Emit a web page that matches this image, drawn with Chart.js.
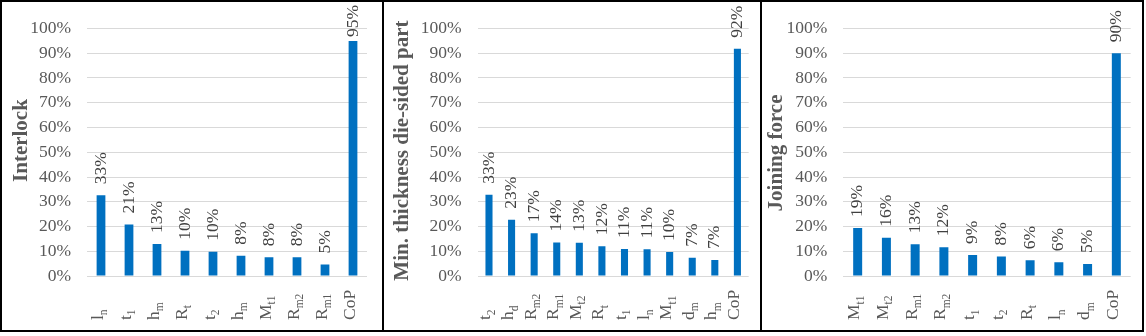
<!DOCTYPE html>
<html>
<head>
<meta charset="utf-8">
<script src="https://cdn.jsdelivr.net/npm/chart.js@4.4.1/dist/chart.umd.min.js"></script>
<style>
  html, body { margin: 0; padding: 0; background: #fff; }
  #frame { position: absolute; left: 0; top: 0; width: 1144px; height: 332px; box-sizing: border-box; border: 2px solid #000; }
  .panel { position: absolute; top: 0; }
  .divider { position: absolute; top: 0; width: 2px; height: 328px; background: #000; }
</style>
</head>
<body>
<div id="frame">
  <canvas id="c1" class="panel" width="380" height="328" style="left:0px"></canvas>
  <div class="divider" style="left:380px"></div>
  <canvas id="c2" class="panel" width="376" height="328" style="left:382px"></canvas>
  <div class="divider" style="left:758px"></div>
  <canvas id="c3" class="panel" width="380" height="328" style="left:760px"></canvas>
</div>
<script>
// y axis tick labels (shared)
const yTickLabels = ['0%', '10%', '20%', '30%', '40%', '50%', '60%', '70%', '80%', '90%', '100%'];

// Interlock
const interlockCats = ['l_n', 't_1', 'h_m', 'R_t', 't_2', 'h_m', 'M_t1', 'R_m2', 'R_m1', 'CoP'];
const interlockVals = [32.6, 20.8, 12.9, 10.2, 9.8, 8.2, 7.6, 7.6, 4.6, 95.0];

// Min. thickness die-sided part
const thicknessCats = ['t_2', 'h_d', 'R_m2', 'R_m1', 'M_t2', 'R_t', 't_1', 'l_n', 'M_t1', 'd_m', 'h_m', 'CoP'];
const thicknessVals = [32.8, 22.7, 17.3, 13.5, 13.4, 12.0, 10.9, 10.8, 9.7, 7.4, 6.5, 91.8];

// Joining force
const forceCats = ['M_t1', 'M_t2', 'R_m1', 'R_m2', 't_1', 't_2', 'R_t', 'l_n', 'd_m', 'CoP'];
const forceVals = [19.4, 15.5, 12.8, 11.6, 8.5, 7.9, 6.4, 5.6, 4.8, 90.0];

const FONT = '"Liberation Serif", "Times New Roman", serif';
const BAR_BLUE = '#0070C0';
const TEXT_GREY = '#595959';

// draws the rotated value labels, the x labels with subscripts and the axis title
const excelLabels = {
  id: 'excelLabels',
  afterDatasetsDraw(chart, args, opts) {
    const ctx = chart.ctx;
    const meta = chart.getDatasetMeta(0);
    const vals = chart.data.datasets[0].data;
    const area = chart.chartArea;

    ctx.save();
    ctx.font = '17.5px ' + FONT;
    ctx.fillStyle = '#404040';
    ctx.textAlign = 'left';
    ctx.textBaseline = 'middle';
    meta.data.forEach((bar, i) => {
      const txt = Math.round(vals[i]) + '%';
      const w = ctx.measureText(txt).width;
      let start = bar.y - 11;
      if (start - w < 3) start = 3 + w; // keep inside the chart like excel does
      ctx.save();
      ctx.translate(bar.x, start);
      ctx.rotate(-Math.PI / 2);
      ctx.fillText(txt, 0, 0);
      ctx.restore();
    });

    const xs = chart.scales.x;
    ctx.fillStyle = TEXT_GREY;
    ctx.textBaseline = 'alphabetic';
    chart.data.labels.forEach((lab, i) => {
      const parts = lab.split('_');
      const cx = xs.getPixelForValue(i);
      ctx.save();
      ctx.translate(cx + 1.5, 318);
      ctx.rotate(-Math.PI / 2);
      ctx.font = '17.5px ' + FONT;
      ctx.fillText(parts[0], 0, 0);
      const bw = ctx.measureText(parts[0]).width;
      if (parts[1]) {
        ctx.font = '11.5px ' + FONT;
        ctx.fillText(parts[1], bw, 4.5);
      }
      ctx.restore();
    });

    // y title
    ctx.save();
    ctx.translate(opts.titleX, (area.top + area.bottom) / 2 + opts.titleShift);
    ctx.rotate(-Math.PI / 2);
    ctx.font = 'bold 21px ' + FONT;
    ctx.textAlign = 'center';
    ctx.textBaseline = 'middle';
    ctx.fillStyle = TEXT_GREY;
    ctx.fillText(opts.title, 0, 0);
    ctx.restore();

    ctx.restore();
  }
};

function makeChart(id, cats, vals, title, yWidth, rightPad, titleX, titleShift) {
  const ctx = document.getElementById(id).getContext('2d');
  return new Chart(ctx, {
    type: 'bar',
    data: {
      labels: cats,
      datasets: [{
        data: vals,
        backgroundColor: BAR_BLUE,
        categoryPercentage: 1,
        barPercentage: 0.313
      }]
    },
    options: {
      responsive: false,
      animation: false,
      devicePixelRatio: 1,
      layout: { padding: { top: 18.7, right: rightPad, bottom: 0, left: 0 } },
      plugins: {
        legend: { display: false },
        tooltip: { enabled: false },
        excelLabels: { title: title, titleX: titleX, titleShift: titleShift }
      },
      scales: {
        x: {
          grid: { display: false },
          border: { display: false },
          ticks: { display: false },
          afterFit: s => { s.height = 54; }
        },
        y: {
          min: 0,
          max: 100,
          ticks: {
            stepSize: 10,
            padding: 16,
            color: TEXT_GREY,
            font: { family: FONT, size: 17.5 },
            callback: (v, i) => yTickLabels[i]
          },
          grid: { color: '#d9d9d9', drawTicks: false },
          border: { display: false },
          afterFit: s => { s.width = yWidth; }
        }
      }
    },
    plugins: [excelLabels]
  });
}

makeChart('c1', interlockCats, interlockVals, 'Interlock', 85, 15, 20, -11.7);
makeChart('c2', thicknessCats, thicknessVals, 'Min. thickness die-sided part', 93.7, 11.3, 18.8, -1.7);
makeChart('c3', forceCats, forceVals, 'Joining force', 81.3, 11.3, 14.5, 0.7);
</script>
</body>
</html>
